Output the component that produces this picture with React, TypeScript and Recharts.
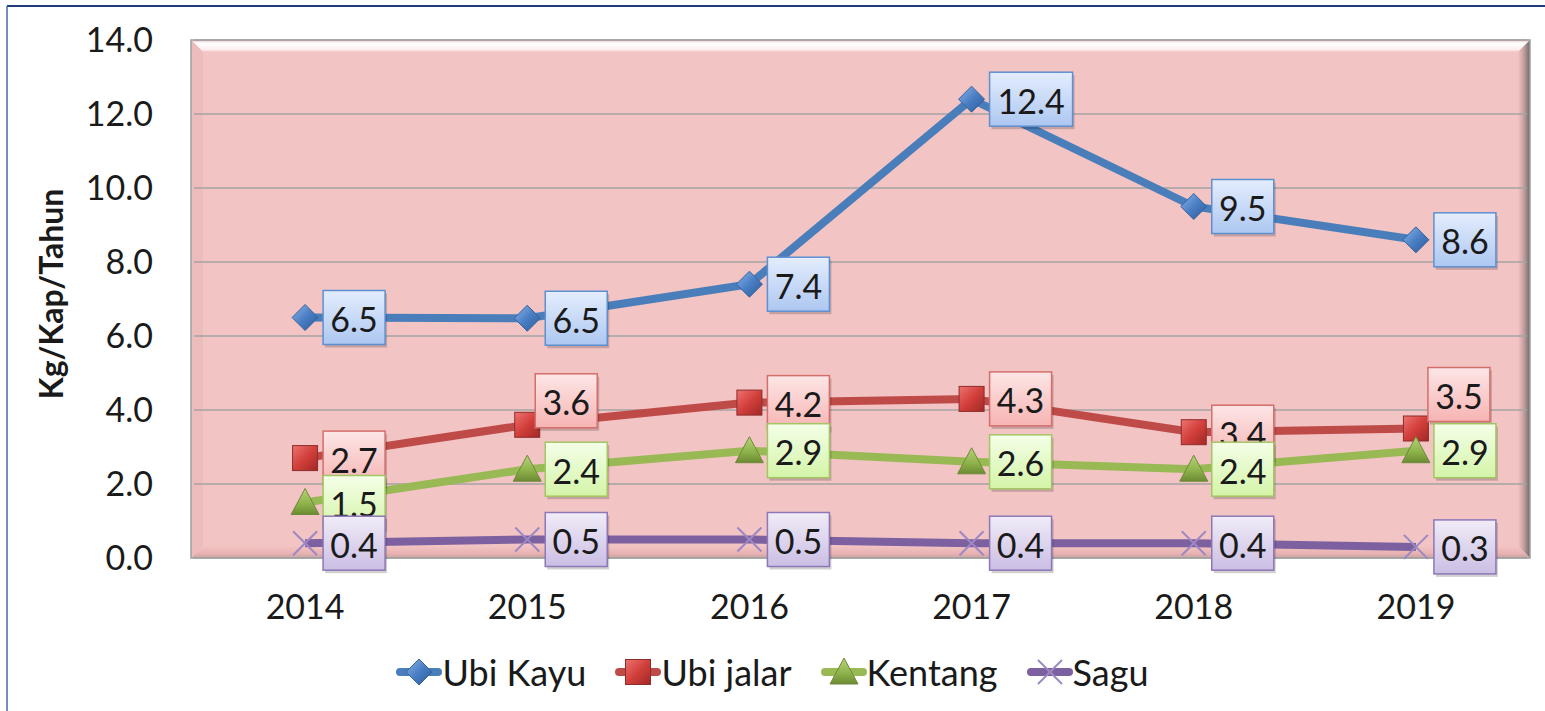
import React from 'react';
import { LineChart, Line, XAxis, YAxis, CartesianGrid, Legend, LabelList } from 'recharts';

// ---------- data ----------
const years = ['2014', '2015', '2016', '2017', '2018', '2019'];
const ubiKayu = [6.5, 6.48, 7.4, 12.4, 9.5, 8.6];
const ubiJalar = [2.7, 3.6, 4.2, 4.3, 3.4, 3.5];
const kentang = [1.5, 2.4, 2.9, 2.6, 2.4, 2.9];
const sagu = [0.4, 0.5, 0.5, 0.4, 0.4, 0.3];
const yTicks = [0, 2, 4, 6, 8, 10, 12, 14];

const data = years.map((year, i) => ({
  year,
  ubiKayu: ubiKayu[i],
  ubiJalar: ubiJalar[i],
  kentang: kentang[i],
  sagu: sagu[i],
}));

// ---------- styles / layout ----------
const FONT = 'Lato, "Noto Sans", sans-serif';
const W = 1545;
const H = 711;
const PLOT_L = 194;
const PLOT_R = 1527;
const PLOT_T = 40;
const PLOT_B = 558;

type Shape = 'diamond' | 'square' | 'triangle' | 'cross';
const series: {
  key: string; name: string; color: string; shape: Shape;
  boxTop: string; boxBottom: string; boxStroke: string;
}[] = [
  { key: 'ubiKayu', name: 'Ubi Kayu', color: '#4A7EBB', shape: 'diamond', boxTop: '#E4EDFD', boxBottom: '#ADC7F1', boxStroke: '#5E90CF' },
  { key: 'ubiJalar', name: 'Ubi jalar', color: '#BE4B48', shape: 'square', boxTop: '#FDE6E6', boxBottom: '#F6B4B3', boxStroke: '#D46E6B' },
  { key: 'kentang', name: 'Kentang', color: '#98B954', shape: 'triangle', boxTop: '#F4FFE8', boxBottom: '#D4F4A8', boxStroke: '#A2C664' },
  { key: 'sagu', name: 'Sagu', color: '#7D60A0', shape: 'cross', boxTop: '#F0ECF7', boxBottom: '#CBBEE4', boxStroke: '#8E77B7' },
];

// manual label nudges (as in the original chart)
const labelNudge: Record<string, [number, number]> = {
  'ubiJalar-1': [-10, -24],
  'ubiJalar-5': [-6, -34],
};

function Marker({ shape, cx, cy }: { shape: Shape; cx: number; cy: number }) {
  if (shape === 'diamond') {
    return (
      <polygon
        points={`${cx},${cy - 13} ${cx + 13},${cy} ${cx},${cy + 13} ${cx - 13},${cy}`}
        fill="url(#mk-diamond)" stroke="#34639E" strokeWidth={1}
      />
    );
  }
  if (shape === 'square') {
    return <rect x={cx - 12.5} y={cy - 12.5} width={25} height={25} fill="url(#mk-square)" stroke="#8C2D2B" strokeWidth={1} />;
  }
  if (shape === 'triangle') {
    return (
      <polygon
        points={`${cx},${cy - 14} ${cx + 14},${cy + 12} ${cx - 14},${cy + 12}`}
        fill="url(#mk-triangle)" stroke="#6E8A38" strokeWidth={1}
      />
    );
  }
  return (
    <g stroke="#9C88C4" strokeWidth={2}>
      <line x1={cx - 12} y1={cy - 12} x2={cx + 12} y2={cy + 12} />
      <line x1={cx - 12} y1={cy + 12} x2={cx + 12} y2={cy - 12} />
    </g>
  );
}

const makeDot = (shape: Shape) => (p: any) => {
  if (p.cx == null || p.cy == null) return <g key={`d-${p.index}`} />;
  return (
    <g key={`d-${shape}-${p.index}`}>
      <Marker shape={shape} cx={p.cx} cy={p.cy} />
    </g>
  );
};

const makeLabel = (s: typeof series[number]) => (props: any) => {
  const x = props.x ?? props.viewBox?.x;
  const y = props.y ?? props.viewBox?.y;
  const index = props.index;
  if (x == null || y == null) return null;
  const txt = Number(props.value).toFixed(1);
  const w = txt.length > 3 ? 83 : 62;
  const h = 54;
  const [nx, ny] = labelNudge[`${s.key}-${index}`] || [0, 0];
  const bx = x + 18 + nx;
  const by = y - h / 2 + ny;
  return (
    <g key={`lbl-${s.key}-${index}`}>
      <rect x={bx + 2} y={by + 3} width={w} height={h} fill="rgba(0,0,0,0.18)" />
      <rect x={bx} y={by} width={w} height={h} fill={`url(#lb-${s.key})`} stroke={s.boxStroke} strokeWidth={1.5} />
      <text
        x={bx + w / 2} y={by + h / 2 + 1} textAnchor="middle" dominantBaseline="central"
        fontSize={34} fill="#1A1A1A" fontFamily={FONT}
      >
        {txt}
      </text>
    </g>
  );
};

function LegendContent() {
  return (
    <div style={{ display: 'flex', justifyContent: 'center', alignItems: 'center', fontFamily: FONT, fontSize: 36, color: '#1A1A1A', height: 48 }}>
      {series.map((s, i) => (
        <div key={s.key} style={{ display: 'flex', alignItems: 'center', marginRight: i < series.length - 1 ? 29 : 0 }}>
          <svg width={46} height={32} style={{ display: 'block' }}>
            <line x1={4} y1={16} x2={42} y2={16} stroke={s.color} strokeWidth={8} strokeLinecap="round" />
            <Marker shape={s.shape} cx={23} cy={16} />
          </svg>
          <span style={{ lineHeight: '48px' }}>{s.name}</span>
        </div>
      ))}
    </div>
  );
}

function Frame() {
  const L = PLOT_L - 3, R = PLOT_R + 3, T = PLOT_T, B = PLOT_B, d = 12;
  return (
    <svg width={W} height={H} style={{ position: 'absolute', left: 0, top: 0 }}>
      <defs>
        <linearGradient id="fr-top" x1="0" y1="0" x2="0" y2="1">
          <stop offset="0" stopColor="#F4CACA" />
          <stop offset="0.3" stopColor="#FFFFFF" />
          <stop offset="0.8" stopColor="#FCEFEF" />
          <stop offset="1" stopColor="#F2C4C4" />
        </linearGradient>
        <linearGradient id="fr-right" x1="0" y1="0" x2="1" y2="0">
          <stop offset="0" stopColor="#F2C4C4" />
          <stop offset="0.5" stopColor="#C49C9C" />
          <stop offset="1" stopColor="#6A6A6A" />
        </linearGradient>
        <linearGradient id="fr-bottom" x1="0" y1="0" x2="0" y2="1">
          <stop offset="0" stopColor="#F2C4C4" />
          <stop offset="0.6" stopColor="#E9B3B2" />
          <stop offset="1" stopColor="#C9A3A3" />
        </linearGradient>
      </defs>
      {/* outer page border */}
      <line x1={7} y1={6} x2={W} y2={6} stroke="#1F3D7A" strokeWidth={2} />
      <line x1={7} y1={6} x2={7} y2={H} stroke="#4A68A6" strokeWidth={1.5} />
      {/* plot background */}
      <rect x={L} y={T} width={R - L} height={B - T} fill="#F2C4C4" />
      <polygon points={`${L},${T} ${R},${T} ${R - d},${T + d} ${L + d},${T + d}`} fill="url(#fr-top)" />
      <polygon points={`${R},${T} ${R},${B} ${R - d},${B - d} ${R - d},${T + d}`} fill="url(#fr-right)" />
      <polygon points={`${L},${B} ${R},${B} ${R - d},${B - d} ${L + d},${B - d}`} fill="url(#fr-bottom)" />
      <polygon points={`${L},${T} ${L + d},${T + d} ${L + d},${B - d} ${L},${B}`} fill="#EDBDBD" />
      <rect x={L} y={T} width={R - L} height={B - T} fill="none" stroke="#A0A0A0" strokeWidth={1.5} />
    </svg>
  );
}

export default function App() {
  return (
    <div style={{ position: 'absolute', left: 0, top: 0, width: W, height: H, background: '#FFFFFF', fontFamily: FONT }}>
      <Frame />
      <div style={{ position: 'absolute', left: 0, top: 0 }}>
        <LineChart
          width={W}
          height={H}
          data={data}
          margin={{ top: PLOT_T, right: W - PLOT_R, bottom: 0, left: 0 }}
          style={{ fontFamily: FONT }}
        >
          <defs>
            <linearGradient id="mk-diamond" x1="0" y1="0" x2="1" y2="1">
              <stop offset="0" stopColor="#8DB6EA" />
              <stop offset="0.5" stopColor="#4A7EC4" />
              <stop offset="1" stopColor="#2C5A98" />
            </linearGradient>
            <linearGradient id="mk-square" x1="0" y1="0" x2="1" y2="1">
              <stop offset="0" stopColor="#EE7370" />
              <stop offset="0.5" stopColor="#D23F3B" />
              <stop offset="1" stopColor="#A02826" />
            </linearGradient>
            <linearGradient id="mk-triangle" x1="0" y1="0" x2="0" y2="1">
              <stop offset="0" stopColor="#B5D479" />
              <stop offset="0.6" stopColor="#8DB14A" />
              <stop offset="1" stopColor="#6B8A33" />
            </linearGradient>
            {series.map((s) => (
              <linearGradient key={s.key} id={`lb-${s.key}`} x1="0" y1="0" x2="0" y2="1">
                <stop offset="0" stopColor={s.boxTop} />
                <stop offset="1" stopColor={s.boxBottom} />
              </linearGradient>
            ))}
          </defs>
          <CartesianGrid vertical={false} stroke="#A3A3A3" strokeWidth={1.5} fill="none" />
          <XAxis
            dataKey="year"
            scale="band"
            height={H - PLOT_B}
            axisLine={false}
            tickLine={false}
            tickSize={0}
            tickMargin={37}
            tick={{ fontSize: 34, fill: '#1A1A1A', fontFamily: FONT }}
            interval={0}
          />
          <YAxis
            width={PLOT_L}
            domain={[0, 14]}
            ticks={yTicks}
            interval={0}
            axisLine={false}
            tickLine={false}
            tickSize={0}
            tickMargin={41}
            tickFormatter={(v: number) => v.toFixed(1)}
            tick={{ fontSize: 34, fill: '#1A1A1A', fontFamily: FONT }}
            label={{
              content: (p: any) => {
                const vb = p.viewBox || {};
                const cx = (vb.x ?? 0) + 50;
                const cy = (vb.y ?? PLOT_T) + (vb.height ?? PLOT_B - PLOT_T) / 2 - 5;
                return (
                  <text
                    x={cx} y={cy} transform={`rotate(-90 ${cx} ${cy})`} textAnchor="middle"
                    dominantBaseline="central" fontSize={32} fontWeight="bold" fill="#1A1A1A" fontFamily={FONT}
                  >
                    Kg/Kap/Tahun
                  </text>
                );
              },
            }}
          />
          {series.map((s) => (
            <Line
              key={s.key}
              type="linear"
              dataKey={s.key}
              name={s.name}
              stroke={s.color}
              strokeWidth={8}
              dot={makeDot(s.shape)}
              activeDot={false}
              isAnimationActive={false}
            />
          ))}
          {series.map((s) => (
            <Line
              key={`${s.key}-labels`}
              type="linear"
              dataKey={s.key}
              stroke="none"
              strokeWidth={0}
              dot={false}
              activeDot={false}
              legendType="none"
              isAnimationActive={false}
            >
              <LabelList dataKey={s.key} content={makeLabel(s)} />
            </Line>
          ))}
          <Legend
            verticalAlign="middle"
            align="center"
            content={() => <LegendContent />}
            wrapperStyle={{ top: 648, left: 0, width: W, height: 48 }}
          />
        </LineChart>
      </div>
    </div>
  );
}
